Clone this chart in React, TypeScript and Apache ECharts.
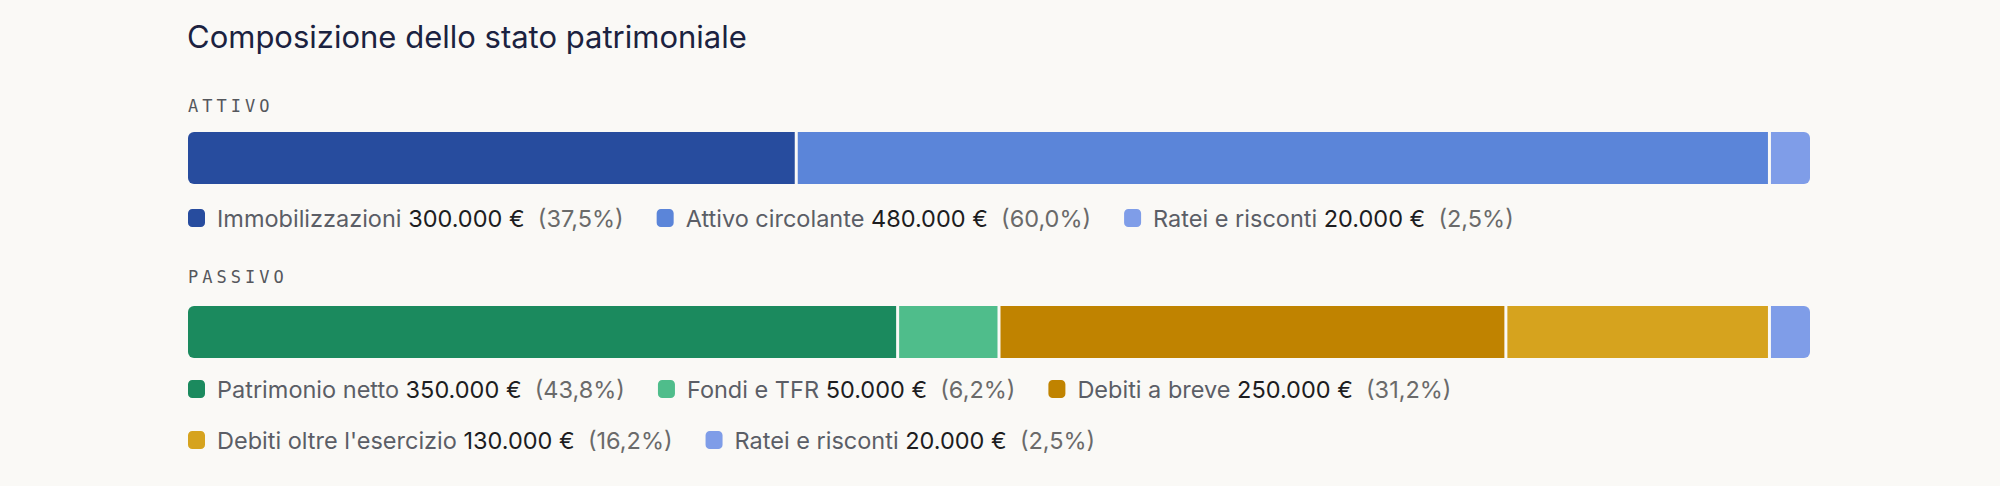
import React, { useEffect, useRef } from "react";
import * as echarts from "echarts";

// Stato patrimoniale (valori in €)
const attivoNames = ["Immobilizzazioni", "Attivo circolante", "Ratei e risconti"];
const attivoValues = [300000, 480000, 20000];
const attivoPct = ["37,5", "60,0", "2,5"];
const attivoColors = ["#274c9e", "#5b85d9", "#7f9de8"];

const passivoNames = [
	"Patrimonio netto",
	"Fondi e TFR",
	"Debiti a breve",
	"Debiti oltre l'esercizio",
	"Ratei e risconti",
];
const passivoValues = [350000, 50000, 250000, 130000, 20000];
const passivoPct = ["43,8", "6,2", "31,2", "16,2", "2,5"];
const passivoColors = ["#1b8a5e", "#4fbd8b", "#c08300", "#d6a31e", "#7f9de8"];

const BG = "#faf9f6";
const SANS = "Inter, 'Noto Sans', sans-serif";
const MONO = "'DejaVu Sans Mono', 'Liberation Mono', monospace";
const LEFT = 188;
const WIDTH = 1622;
const GAP = 3;
const RADIUS = 6;
const FS = 23.5;

const euro = (v: number) => String(v).replace(/\B(?=(\d{3})+(?!\d))/g, ".") + " €";

function buildSeries(names: string[], values: number[], colors: string[], gridIndex: number) {
	let acc = 0;
	return names.map((name, i) => {
		const start = acc;
		acc += values[i];
		const end = acc;
		const first = i === 0;
		const last = i === names.length - 1;
		return {
			type: "custom",
			name,
			xAxisIndex: gridIndex,
			yAxisIndex: gridIndex,
			itemStyle: { color: colors[i] },
			encode: { x: [0, 1], y: 2 },
			data: [[start, end, 0]],
			renderItem: (_params: any, api: any) => {
				const p0 = api.coord([api.value(0), 0]);
				const p1 = api.coord([api.value(1), 0]);
				const h = api.size([0, 1])[1];
				const x = p0[0] + (first ? 0 : GAP / 2);
				const w = p1[0] - (last ? 0 : GAP / 2) - x;
				return {
					type: "rect",
					shape: {
						x,
						y: p0[1] - h / 2,
						width: w,
						height: h,
						r: [first ? RADIUS : 0, last ? RADIUS : 0, last ? RADIUS : 0, first ? RADIUS : 0],
					},
					style: { fill: colors[i] },
				};
			},
		};
	});
}

// una riga di legenda con le voci da `from` a `to`
function buildLegend(
	names: string[],
	values: number[],
	pct: string[],
	colors: string[],
	top: number,
	from = 0,
	to = names.length
) {
	const tok = { fontSize: FS, fontFamily: SANS, fontWeight: "normal" };
	return {
		left: LEFT,
		top,
		width: WIDTH,
		padding: 0,
		orient: "horizontal",
		icon: "roundRect",
		itemWidth: 17,
		itemHeight: 18,
		itemGap: 33,
		selectedMode: false,
		data: names.slice(from, to).map((n, k) => ({ name: n, itemStyle: { color: colors[from + k] } })),
		formatter: (name: string) => {
			const i = names.indexOf(name);
			return `{n|${name}} {v|${euro(values[i])}}  {p|(${pct[i]}%)}`;
		},
		textStyle: {
			fontFamily: SANS,
			fontSize: FS,
			rich: {
				n: { ...tok, color: "#5b5e66", padding: [0, 0, 0, 7] },
				v: { ...tok, color: "#1d1d1f" },
				p: { ...tok, color: "#6a6a6a" },
			},
		},
	};
}

const App: React.FC = () => {
	const chartRef = useRef<HTMLDivElement>(null);

	useEffect(() => {
		document.body.style.margin = "0";
		document.body.style.background = BG;
		if (!chartRef.current) return;
		const chart = echarts.init(chartRef.current, undefined, { renderer: "svg" });

		const attivoTotal = attivoValues.reduce((a, b) => a + b, 0);
		const passivoTotal = passivoValues.reduce((a, b) => a + b, 0);

		const option: any = {
			animation: false,
			backgroundColor: BG,
			title: [
				{
					text: "Composizione dello stato patrimoniale",
					left: LEFT - 1,
					top: 21,
					padding: 0,
					textStyle: { fontFamily: SANS, fontSize: 31, fontWeight: "normal", color: "#1b2240" },
				},
				{
					text: "ATTIVO",
					left: LEFT,
					top: 97,
					padding: 0,
					textStyle: { fontFamily: MONO, fontSize: 17, fontWeight: "normal", color: "#55575c" },
				},
				{
					text: "PASSIVO",
					left: LEFT,
					top: 268,
					padding: 0,
					textStyle: { fontFamily: MONO, fontSize: 17, fontWeight: "normal", color: "#55575c" },
				},
			],
			tooltip: { show: false },
			grid: [
				{ left: LEFT, width: WIDTH, top: 132, height: 52 },
				{ left: LEFT, width: WIDTH, top: 306, height: 52 },
			],
			xAxis: [
				{ type: "value", gridIndex: 0, min: 0, max: attivoTotal, show: false },
				{ type: "value", gridIndex: 1, min: 0, max: passivoTotal, show: false },
			],
			yAxis: [
				{ type: "category", gridIndex: 0, data: ["Attivo"], show: false },
				{ type: "category", gridIndex: 1, data: ["Passivo"], show: false },
			],
			legend: [
				buildLegend(attivoNames, attivoValues, attivoPct, attivoColors, 206),
				buildLegend(passivoNames, passivoValues, passivoPct, passivoColors, 377, 0, 3),
				buildLegend(passivoNames, passivoValues, passivoPct, passivoColors, 428, 3, 5),
			],
			series: [
				...buildSeries(attivoNames, attivoValues, attivoColors, 0),
				...buildSeries(passivoNames, passivoValues, passivoColors, 1),
			],
		};

		chart.setOption(option);

		// spaziatura delle etichette di sezione
		chartRef.current.querySelectorAll("text").forEach((t) => {
			const s = t.textContent || "";
			if (s === "ATTIVO" || s === "PASSIVO") t.setAttribute("letter-spacing", "4");
		});

		const handleResize = () => chart.resize();
		window.addEventListener("resize", handleResize);
		return () => {
			window.removeEventListener("resize", handleResize);
			chart.dispose();
		};
	}, []);

	return <div ref={chartRef} style={{ width: "100vw", height: "100vh" }} />;
};

export default App;
